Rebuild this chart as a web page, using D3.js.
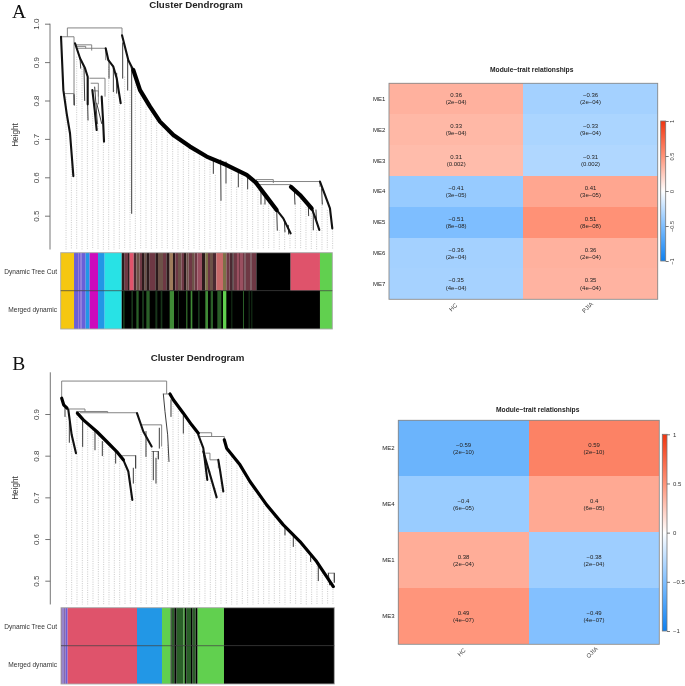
<!DOCTYPE html>
<html>
<head>
<meta charset="utf-8">
<script src="https://cdn.jsdelivr.net/npm/d3@7"></script>
<style>
  html, body { margin: 0; padding: 0; background: #fff; }
  svg { display: block; font-family: "Liberation Sans", Arial, sans-serif; filter: blur(0.45px); }
</style>
</head>
<body>
<div id="chart"></div>
<script>
// ---- dendrogram A: [leaf, height] polylines, heavy to light
const thickA = [
  [[218, .879], [238, .827], [268, .784], [298, .745], [338, .710], [388, .680], [438, .654], [498, .632], [558, .606], [586, .586]],
  [[586, .586], [618, .549], [648, .515]],
  [[691, .575], [718, .554], [753, .519]]
];
const midA = [
  [[184, .970], [203, .905], [218, .879], [238, .827]],
  [[648, .515], [668, .493], [690, .454]],
  [[753, .519], [763, .497], [776, .463]],
  [[778, .589], [793, .554], [808, .519], [815, .467]],
  [[43, .949], [58, .910], [73, .884], [81, .862], [81, .790]],
  [[135, .936], [143, .905], [158, .888], [168, .858], [180, .793]],
  [[1, .966], [8, .827], [18, .766], [28, .714], [38, .603]],
  [[95, .827], [102, .775], [108, .723]],
  [[123, .810], [127, .750], [130, .693]]
];
const twigsA = [
  [[186, .950], [186, .858]], [[201, .905], [201, .827]], [[213, .888], [213, .506]],
  [[81, .790], [82, .749]], [[145, .905], [145, .858]], [[158, .888], [158, .823]], [[168, .871], [168, .819]],
  [[58, .910], [60, .884]], [[102, .835], [110, .740]], [[108, .793], [123, .740]],
  [[70, .884], [72, .800]], [[40, .815], [41, .788]],
  [[458, .645], [458, .610]], [[480, .645], [481, .540]], [[496, .640], [496, .585]],
  [[533, .615], [533, .575]], [[561, .600], [561, .570]], [[601, .565], [601, .530]],
  [[613, .550], [613, .530]], [[648, .520], [650, .462]], [[671, .490], [673, .458]],
  [[683, .475], [684, .452]], [[701, .570], [703, .530]], [[743, .530], [744, .500]],
  [[758, .515], [758, .463]], [[766, .515], [768, .480]], [[783, .570], [785, .530]]
];
const mergesA = [
  // left leaf, right leaf, height, left end, right end
  [20, 184, .989, .966, .970],
  [1, 40, .966, .966, .788],
  [13, 40, .818, .817, .788],
  [43, 93, .945, .945, .930],
  [46, 75, .941, .941, .936],
  [50, 135, .936, .936, .905],
  [86, 133, .858, .858, .810],
  [90, 113, .845, .845, .810],
  [98, 113, .825, .825, .790],
  [209, 218, .885, .885, .879],
  [586, 638, .594, .594, .585],
  [590, 778, .589, .589, .575],
  [591, 691, .581, .581, .575]
];
const guideTopsA = [
  .810, .645, .914, .888, .853, .766, .740, .714, .888, .827, .800, .862, .827, .853, .819, .790, .770,
  .753, .736, .723, .710, .697, .687, .678, .669, .660, .654, .645, .606, .540, .584, .623, .575, .610,
  .570, .593, .567, .532, .532, .515, .463, .463, .454, .532, .550, .523, .506, .463, .540, .515, .471
];
const cutA = [
  [0, 40, 'gold'], [40, 52, 'violet'], [52, 54, 'orchid'], [54, 60, 'violet'], [60, 62, 'orchid'], [62, 75, 'violet'],
  [75, 87, 'blue'], [87, 112, 'magenta'], [112, 132, 'blue'], [132, 183, 'cyan'],
  [183, 192, 'dark'], [192, 202, 'wine'], [202, 207, 'dark'], [207, 219, 'rose'], [219, 227, 'plum'], [227, 237, 'mocha'],
  [237, 244, 'wine'], [244, 252, 'dark'], [252, 257, 'mocha'], [257, 267, 'dark'], [267, 284, 'wine'], [284, 292, 'dark'],
  [292, 307, 'mocha'], [307, 317, 'wine'], [317, 327, 'dark'], [327, 337, 'tan'], [337, 344, 'dark'], [344, 352, 'wine'],
  [352, 362, 'mocha'], [362, 370, 'wine'], [370, 377, 'dark'], [377, 384, 'mocha'], [384, 394, 'wine'], [394, 402, 'mocha'],
  [402, 410, 'wine'], [410, 424, 'rosedim'], [424, 434, 'dark'], [434, 442, 'olive'], [442, 448, 'wine'], [448, 457, 'mocha'],
  [457, 467, 'plum'], [467, 487, 'salmon'], [487, 497, 'olive'], [497, 507, 'wine'], [507, 515, 'plum'], [515, 519, 'dark'],
  [519, 529, 'wine'], [529, 535, 'rosedim'], [535, 538, 'wine'], [538, 547, 'rosedim'], [547, 552, 'wine'], [552, 555, 'plum'],
  [555, 570, 'wine'], [570, 573, 'plum'], [573, 587, 'wine'],
  [587, 690, 'black'], [690, 778, 'rose'], [778, 815, 'green']
];
const mergedA = [
  [0, 40, 'gold'], [40, 52, 'violet'], [52, 54, 'orchid'], [54, 60, 'violet'], [60, 62, 'orchid'], [62, 75, 'violet'],
  [75, 87, 'blue'], [87, 112, 'magenta'], [112, 132, 'blue'], [132, 183, 'cyan'], [183, 778, 'black'],
  [187, 192, 'forest'], [212, 217, 'forest'], [227, 234, 'moss'], [244, 250, 'forest'], [257, 267, 'moss'], [284, 290, 'forest'],
  [300, 305, 'forest'], [327, 340, 'fern'], [352, 355, 'forest'], [377, 380, 'fern'], [390, 395, 'fern'], [412, 417, 'forest'],
  [434, 442, 'fern'], [450, 457, 'moss'], [470, 482, 'moss'], [487, 497, 'green'], [512, 515, 'forest'], [547, 550, 'moss'],
  [564, 567, 'forest'], [572, 575, 'forest'], [778, 815, 'green']
];

// ---- dendrogram B
const thickB = [
  [[490, .838], [497, .818], [537, .778], [567, .738], [617, .682], [667, .634], [717, .594], [767, .546], [817, .486]],
  [[49, .902], [67, .886], [107, .858], [137, .834], [167, .810], [187, .790]],
  [[327, .948], [337, .934], [367, .902], [392, .874], [412, .854]],
  [[2, .938], [8, .922], [18, .914]]
];
const midB = [
  [[187, .790], [202, .762], [214, .694]],
  [[228, .902], [247, .858], [272, .822]],
  [[22, .910], [32, .850], [45, .806]],
  [[412, .850], [427, .818], [439, .742]],
  [[427, .810], [467, .700]],
  [[472, .790], [477, .766], [487, .714]]
];
const twigsB = [
  [[307, .948], [312, .906], [320, .850], [324, .786]],
  [[12, .914], [12, .894]], [[25, .880], [25, .832]], [[65, .886], [65, .822]], [[102, .862], [102, .814]],
  [[124, .834], [124, .800]], [[164, .810], [164, .782]], [[224, .800], [224, .770]], [[217, .770], [217, .734]],
  [[255, .858], [255, .798]], [[295, .866], [295, .818]], [[277, .810], [277, .742]], [[285, .794], [285, .734]],
  [[292, .810], [292, .792]], [[330, .934], [330, .894]], [[367, .902], [367, .854]],
  [[672, .630], [672, .610]], [[697, .610], [697, .582]], [[749, .562], [749, .546]], [[772, .542], [772, .500]],
  [[820, .518], [820, .496]], [[802, .518], [806, .490]]
];
const mergesB = [
  [2, 317, .979, .938, .948],
  [307, 327, .948, .948, .946],
  [18, 72, .912, .912, .905],
  [45, 140, .906, .906, .903],
  [57, 228, .903, .903, .902],
  [242, 302, .874, .874, .822],
  [272, 292, .810, .810, .792],
  [182, 224, .800, .800, .770],
  [410, 452, .855, .855, .846],
  [415, 490, .846, .846, .838],
  [432, 447, .806, .806, .790],
  [447, 472, .790, .790, .770],
  [802, 820, .518, .518, .496]
];
const guideTopsB = [
  .894, .850, .898, .886, .870, .862, .854, .838, .826, .814, .798, .778, .746, .770, .874, .850, .822,
  .810, .818, .826, .930, .918, .902, .882, .866, .850, .802, .762, .722, .762, .818, .798, .782, .762,
  .742, .726, .706, .690, .674, .658, .642, .626, .614, .602, .590, .578, .562, .546, .530, .514, .502
];
const cutB = [
  [0, 5, 'mauve'], [5, 8, 'violet'], [8, 14, 'mauve'], [14, 20, 'violet'], [20, 228, 'rose'], [228, 303, 'blue'],
  [303, 329, 'green'], [329, 332, 'black'], [332, 340, 'moss'], [340, 347, 'black'], [347, 367, 'moss'], [367, 372, 'fern'],
  [372, 377, 'black'], [377, 390, 'moss'], [390, 395, 'black'], [395, 404, 'moss'], [404, 410, 'black'],
  [410, 489, 'green'], [489, 820, 'black']
];
const mergedB = cutB;

// ---- module-trait tables
const rowsA = ['ME1', 'ME2', 'ME3', 'ME4', 'ME5', 'ME6', 'ME7'];
const colsA = ['HC', 'PJIA'];
const corrA = [[0.36, -0.36], [0.33, -0.33], [0.31, -0.31], [-0.41, 0.41], [-0.51, 0.51], [-0.36, 0.36], [-0.35, 0.35]];
const pvalA = ['2e−04', '9e−04', '0.002', '3e−05', '8e−08', '2e−04', '4e−04'];

const rowsB = ['ME2', 'ME4', 'ME1', 'ME3'];
const colsB = ['HC', 'OJIA'];
const corrB = [[-0.59, 0.59], [-0.4, 0.4], [0.38, -0.38], [0.49, -0.49]];
const pvalB = ['2e−10', '6e−05', '2e−04', '4e−07'];

const legendTicks = [-1, -0.5, 0, 0.5, 1];
const heightTicksA = [0.5, 0.6, 0.7, 0.8, 0.9, 1.0];
const heightTicksB = [0.5, 0.6, 0.7, 0.8, 0.9];

const moduleNames = ['gold', 'violet', 'orchid', 'blue', 'magenta', 'cyan', 'black', 'rose', 'green', 'dark', 'wine', 'plum', 'mocha', 'tan', 'rosedim', 'salmon', 'olive', 'forest', 'moss', 'fern', 'mauve'];
const moduleColors = ['#f5c710', '#6a5fd8', '#8a50c0', '#2297e6', '#cd0bbc', '#28e2e5', '#000000', '#df536b', '#61d04f', '#2c1a1c', '#6e3844', '#4a2a32', '#6d5248', '#a07d5c', '#9a4f60', '#c86a6a', '#7d7048', '#17351a', '#2a5f28', '#3f8a36', '#8a6aa8'];

const moduleColor = d3.scaleOrdinal(moduleNames, moduleColors);
const corrColor = d3.scaleLinear().domain(legendTicks).range(['#0d80f0', '#80bfff', '#ffffff', '#ff9378', '#f03510']);
const minus = v => String(v).replace('-', '−');

const svg = d3.select('#chart').append('svg').attr('width', 685).attr('height', 686);
const defs = svg.append('defs');

function drawDendrogram(cfg) {
  const g = svg.append('g');
  const x = d3.scaleLinear().domain([0, cfg.leaves]).range(cfg.xRange);
  const y = d3.scaleLinear().domain([0.5, 0.9]).range(cfg.yRange);
  const bottom = y(cfg.heightMin);

  g.append('text').attr('x', cfg.letter[0]).attr('y', cfg.letter[1]).text(cfg.name)
    .attr('font-family', '"Liberation Serif", serif').attr('font-size', 19.5).attr('fill', '#111');
  g.append('text').attr('x', cfg.titleX).attr('y', cfg.titleY).text('Cluster Dendrogram')
    .attr('text-anchor', 'middle').attr('font-weight', 'bold').attr('font-size', 9.7).attr('fill', '#222');
  g.append('text').attr('transform', `translate(17.5,${cfg.heightLabelY}) rotate(-90)`).text('Height')
    .attr('text-anchor', 'middle').attr('font-size', 8.2).attr('fill', '#333');

  const axis = g.append('g').attr('transform', `translate(${cfg.axisX},0)`)
    .call(d3.axisLeft(y.copy()).tickValues(cfg.ticks).tickFormat(d3.format('.1f')).tickSize(5).tickSizeOuter(0));
  axis.select('.domain').attr('d', `M0,${y(1)}V${bottom}`).attr('stroke', '#666').attr('stroke-width', 0.9);
  axis.selectAll('.tick line').attr('stroke', '#666').attr('stroke-width', 0.9);
  axis.selectAll('.tick text').attr('transform', 'rotate(-90)').attr('x', 0).attr('y', -11).attr('dy', 0)
    .attr('text-anchor', 'middle').attr('font-size', 8).attr('font-family', '"Liberation Sans", Arial, sans-serif').attr('fill', '#444');

  // dotted guides hanging from the tree
  const gx = d3.scalePoint().domain(d3.range(cfg.guides.length)).range([x(16), x(816)]);
  g.append('g').selectAll('line').data(cfg.guides).join('line')
    .attr('x1', (d, i) => gx(i)).attr('x2', (d, i) => gx(i))
    .attr('y1', d => y(d)).attr('y2', bottom)
    .attr('stroke', '#bdbdbd').attr('stroke-width', 0.8).attr('stroke-dasharray', '1 1.3');

  const line = d3.line().x(d => x(d[0])).y(d => y(d[1]));

  g.append('g').selectAll('path').data(cfg.merges).join('path')
    .attr('d', d => `M${x(d[0])},${y(d[3])}V${y(d[2])}H${x(d[1])}V${y(d[4])}`)
    .attr('fill', 'none').attr('stroke', '#777').attr('stroke-width', 0.9);

  const branchSets = [[cfg.twigs, 0.95, '#333'], [cfg.mid, 2.1, '#111'], [cfg.thick, cfg.thickWidth, '#000']];
  branchSets.forEach(([set, w, col]) => {
    g.append('g').selectAll('path').data(set).join('path')
      .attr('d', line).attr('fill', 'none').attr('stroke', col).attr('stroke-width', w)
      .attr('stroke-linejoin', 'round').attr('stroke-linecap', 'round');
  });

  // module colour strips
  const strips = [[cfg.cut, cfg.barY[0], cfg.barY[1], 'Dynamic Tree Cut'], [cfg.merged, cfg.barY[1], cfg.barY[2], 'Merged dynamic']];
  strips.forEach(([rows, y0, y1, label]) => {
    g.append('g').selectAll('rect').data(rows).join('rect')
      .attr('x', d => x(d[0])).attr('width', d => x(d[1]) - x(d[0]))
      .attr('y', y0).attr('height', y1 - y0)
      .attr('fill', d => moduleColor(d[2]));
    g.append('text').attr('x', 57).attr('y', (y0 + y1) / 2).attr('dy', '0.35em').text(label)
      .attr('text-anchor', 'end').attr('font-size', 6.6).attr('fill', '#333');
  });
  g.append('rect').attr('x', x(0)).attr('y', cfg.barY[0]).attr('width', x(cfg.leaves) - x(0)).attr('height', cfg.barY[2] - cfg.barY[0])
    .attr('fill', 'none').attr('stroke', '#aaa').attr('stroke-width', 0.9);
  g.append('line').attr('x1', x(0)).attr('x2', x(cfg.leaves)).attr('y1', cfg.barY[1]).attr('y2', cfg.barY[1])
    .attr('stroke', '#222').attr('stroke-opacity', 0.7).attr('stroke-width', 0.9);
}

function drawHeatmap(cfg) {
  const g = svg.append('g');
  const x = d3.scaleBand().domain(cfg.cols).range(cfg.xRange);
  const y = d3.scaleBand().domain(cfg.rows).range(cfg.yRange);

  g.append('text').attr('x', cfg.titleX).attr('y', cfg.titleY).text('Module−trait relationships')
    .attr('text-anchor', 'middle').attr('font-weight', 'bold').attr('font-size', 6.7).attr('fill', '#222');

  cfg.rows.forEach((row, i) => {
    cfg.cols.forEach((col, j) => {
      const v = cfg.corr[i][j];
      const cx = x(col) + x.bandwidth() / 2, cy = y(row) + y.bandwidth() / 2;
      g.append('rect').attr('x', x(col)).attr('y', y(row)).attr('width', x.bandwidth()).attr('height', y.bandwidth())
        .attr('fill', corrColor(v)).attr('shape-rendering', 'crispEdges');
      g.append('text').attr('x', cx).attr('y', cy - 3.6).attr('dy', '0.35em').text(minus(v))
        .attr('text-anchor', 'middle').attr('font-size', 6).attr('fill', '#222');
      g.append('text').attr('x', cx).attr('y', cy + 3.6).attr('dy', '0.35em').text(`(${cfg.pval[i]})`)
        .attr('text-anchor', 'middle').attr('font-size', 6).attr('fill', '#222');
    });
    g.append('text').attr('x', cfg.xRange[0] - 3.6).attr('y', y(row) + y.bandwidth() / 2).attr('dy', '0.35em').text(row)
      .attr('text-anchor', 'end').attr('font-size', 6).attr('fill', '#222');
  });
  g.append('rect').attr('x', cfg.xRange[0]).attr('y', cfg.yRange[0])
    .attr('width', cfg.xRange[1] - cfg.xRange[0]).attr('height', cfg.yRange[1] - cfg.yRange[0])
    .attr('fill', 'none').attr('stroke', '#8a8a8a').attr('stroke-width', 0.9);

  cfg.cols.forEach(col => {
    const lx = x(col) + x.bandwidth() / 2 - cfg.colLabelShift;
    g.append('text').attr('transform', `translate(${lx},${cfg.yRange[1] + 8}) rotate(-45)`).text(col)
      .attr('text-anchor', 'middle').attr('dy', '0.35em').attr('font-size', 6).attr('fill', '#444');
  });

  // colour key
  const gradId = 'grad' + cfg.name;
  defs.append('linearGradient').attr('id', gradId).attr('x1', 0).attr('x2', 0).attr('y1', 1).attr('y2', 0)
    .selectAll('stop').data(legendTicks).join('stop')
    .attr('offset', d => (d + 1) / 2).attr('stop-color', d => corrColor(d));
  const k = d3.scaleLinear().domain([-1, 1]).range([cfg.keyY[1], cfg.keyY[0]]);
  g.append('rect').attr('x', cfg.keyX[0]).attr('y', cfg.keyY[0]).attr('width', cfg.keyX[1] - cfg.keyX[0]).attr('height', cfg.keyY[1] - cfg.keyY[0])
    .attr('fill', `url(#${gradId})`).attr('stroke', '#777').attr('stroke-width', 0.8);
  const keyAxis = g.append('g').attr('transform', `translate(${cfg.keyX[1]},0)`)
    .call(d3.axisRight(k).tickValues(legendTicks).tickSize(3).tickSizeOuter(0).tickFormat(minus));
  keyAxis.select('.domain').remove();
  keyAxis.selectAll('.tick line').attr('stroke', '#555').attr('stroke-width', 0.8);
  keyAxis.selectAll('.tick text').attr('font-size', cfg.keyFont).attr('font-family', '"Liberation Sans", Arial, sans-serif').attr('fill', '#333');
  if (cfg.keyRotated) {
    keyAxis.selectAll('.tick text').attr('transform', 'rotate(-90)').attr('x', 0).attr('y', 7).attr('dy', 0)
      .attr('text-anchor', 'middle').attr('dominant-baseline', 'middle');
  }
}

drawDendrogram({
  name: 'A', letter: [12, 17.5], titleX: 196, titleY: 8, heightLabelY: 135,
  leaves: 815, xRange: [60.7, 332.3], yRange: [215.7, 62.1], axisX: 50, heightMin: 0.412,
  ticks: heightTicksA, guides: guideTopsA, thick: thickA, mid: midA, twigs: twigsA, merges: mergesA, thickWidth: 4.2,
  cut: cutA, merged: mergedA, barY: [252.7, 290.7, 329]
});
drawDendrogram({
  name: 'B', letter: [12.3, 370], titleX: 197.5, titleY: 361, heightLabelY: 488,
  leaves: 820, xRange: [61, 334.3], yRange: [580.7, 414], axisX: 50.3, heightMin: 0.443,
  ticks: heightTicksB, guides: guideTopsB, thick: thickB, mid: midB, twigs: twigsB, merges: mergesB, thickWidth: 3.2,
  cut: cutB, merged: mergedB, barY: [607.7, 645.7, 684]
});
drawHeatmap({
  name: 'A', rows: rowsA, cols: colsA, corr: corrA, pval: pvalA,
  xRange: [389, 657.7], yRange: [83.3, 299.3], titleX: 531.7, titleY: 71.5, colLabelShift: 3,
  keyX: [660.7, 665.7], keyY: [121, 261], keyRotated: true, keyFont: 5.6
});
drawHeatmap({
  name: 'B', rows: rowsB, cols: colsB, corr: corrB, pval: pvalB,
  xRange: [398.3, 659.3], yRange: [420.3, 644.3], titleX: 537.7, titleY: 411.5, colLabelShift: 2,
  keyX: [662.3, 667], keyY: [434.3, 631], keyRotated: false, keyFont: 6
});
</script>
</body>
</html>
